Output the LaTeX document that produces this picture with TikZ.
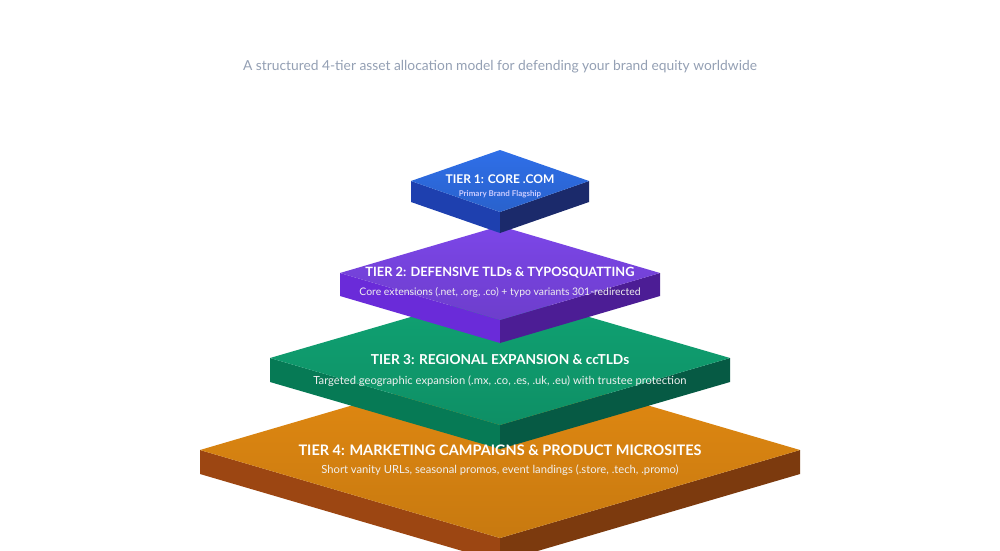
\documentclass[tikz,border=0pt]{standalone}
\usepackage{fontspec}
\setmainfont{Lato}
\definecolor{subgray}{HTML}{94A0B4}
\definecolor{oneTop}{HTML}{2F6FE8}\definecolor{oneL}{HTML}{1E40AF}\definecolor{oneR}{HTML}{1B2A6B}
\definecolor{twoTop}{HTML}{7C46E8}\definecolor{twoL}{HTML}{6A2BD9}\definecolor{twoR}{HTML}{4C1D95}
\definecolor{thrTop}{HTML}{10A373}\definecolor{thrL}{HTML}{067A55}\definecolor{thrR}{HTML}{065A44}
\definecolor{fouTop}{HTML}{E38A12}\definecolor{fouL}{HTML}{9C4612}\definecolor{fouR}{HTML}{7C3A0E}
\tikzstyle{tiertitle}=[text=white,font=\bfseries\fontsize{14.5}{16}\selectfont,inner sep=0pt]
\tikzstyle{tiersub}=[text=white!88!gray,font=\fontsize{11.2}{13}\selectfont,inner sep=0pt]
% slab: #1 centre x, #2 top vertex y, #3 half width, #4 half height, #5 thickness, #6 colour prefix
\newcommand{\slab}[6]{%
  \fill[#6L] (#1-#3,#2+#4) -- (#1,#2+2*#4) -- (#1,#2+2*#4+#5) -- (#1-#3,#2+#4+#5) -- cycle;
  \fill[#6R] (#1+#3,#2+#4) -- (#1,#2+2*#4) -- (#1,#2+2*#4+#5) -- (#1+#3,#2+#4+#5) -- cycle;
  \shade[top color=#6Top,bottom color=#6Top!88!black]
    (#1-#3,#2+#4) -- (#1,#2) -- (#1+#3,#2+#4) -- (#1,#2+2*#4) -- cycle;
}
\begin{document}
\begin{tikzpicture}[x=1pt,y=-1pt]
  \useasboundingbox[fill=white] (0,0) rectangle (1000,550);
  \node[text=subgray,font=\fontsize{13.8}{16}\selectfont] (subtitle) at (500,67)
    {A structured 4-tier asset allocation model for defending your brand equity worldwide};

  \slab{500}{362}{300}{88}{24}{fou}
  \slab{500}{291}{230}{67}{24}{thr}
  \slab{500}{226}{160}{47}{23}{two}
  \slab{500}{150}{89}{31}{21}{one}

  \node[tiertitle] (t4) at (500,450) {TIER 4: MARKETING CAMPAIGNS \& PRODUCT MICROSITES};
  \node[tiersub] (s4) at (500,470) {Short vanity URLs, seasonal promos, event landings (.store, .tech, .promo)};
  \node[tiertitle,font=\bfseries\fontsize{13.7}{16}\selectfont] (t3) at (500,360) {TIER 3: REGIONAL EXPANSION \& ccTLDs};
  \node[tiersub] (s3) at (500,381) {Targeted geographic expansion (.mx, .co, .es, .uk, .eu) with trustee protection};
  \node[tiertitle,font=\bfseries\fontsize{12.8}{15}\selectfont] (t2) at (500,273) {TIER 2: DEFENSIVE TLDs \& TYPOSQUATTING};
  \node[tiersub,font=\fontsize{10.4}{12}\selectfont] (s2) at (500,292) {Core extensions (.net, .org, .co) + typo variants 301-redirected};
  \node[tiertitle,font=\bfseries\fontsize{12}{14}\selectfont] (t1) at (500,179) {TIER 1: CORE .COM};
  \node[tiersub,font=\bfseries\fontsize{8}{10}\selectfont,text=white!80!blue] (s1) at (500,194) {Primary Brand Flagship};
\end{tikzpicture}
\end{document}
